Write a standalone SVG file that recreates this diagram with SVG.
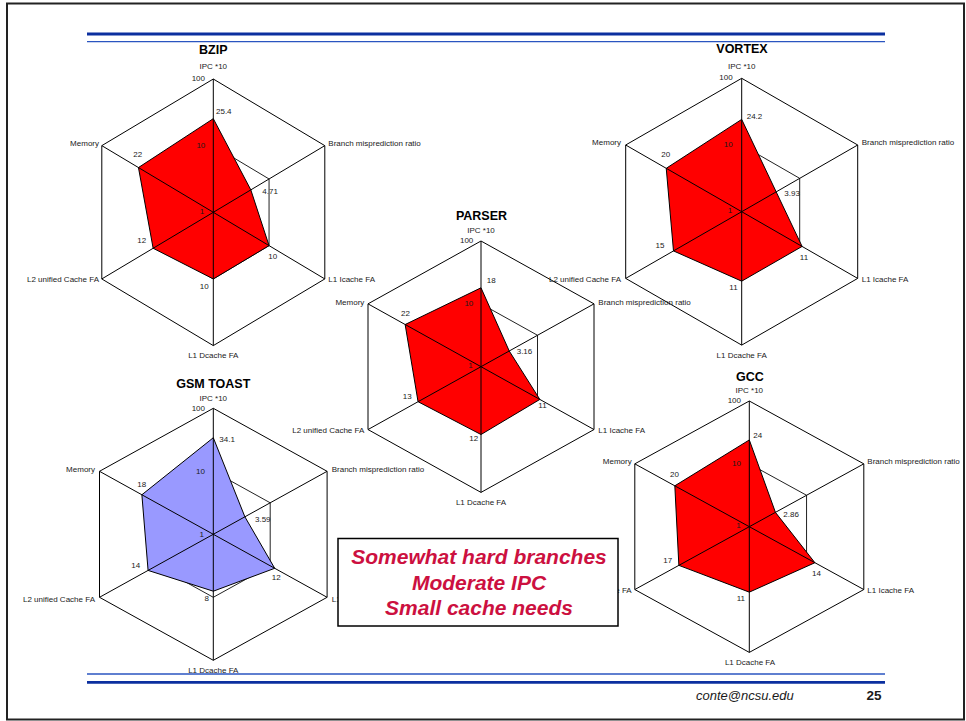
<svg xmlns="http://www.w3.org/2000/svg" width="966" height="721" viewBox="0 0 966 721">
  <style>
    .ring { fill: none; stroke: #000; stroke-width: 1; }
    .inner { fill: none; stroke: #222; stroke-width: 1; }
    .axis { fill: none; stroke: #000; stroke-width: 1; }
    .data { fill: #ff0000; stroke: #000; stroke-width: 1; }
    .data.blue { fill: #9999ff; }
    text { font-family: "Liberation Sans", Arial, sans-serif; fill: #1a1a1a; }
    .lbl { font-size: 8px; }
    .ttl { font-size: 12.5px; font-weight: bold; fill: #000; }
    .s { text-anchor: start; }
    .m { text-anchor: middle; }
    .e { text-anchor: end; }
    .note { font-size: 21px; font-weight: bold; font-style: italic; fill: #cc1040; text-anchor: middle; }
  </style>

  <rect x="0" y="0" width="966" height="721" fill="#fff"/>
  <!-- page frame -->
  <rect x="7" y="3.5" width="957" height="716" fill="none" stroke="#222" stroke-width="2"/>

  <!-- header and footer rules -->
  <g id="rules">
    <line x1="87" y1="34" x2="885" y2="34" stroke="#0b2f9f" stroke-width="2.8"/>
    <line x1="87" y1="41.7" x2="885" y2="41.7" stroke="#2a55c0" stroke-width="1.3"/>
    <line x1="87" y1="674" x2="885" y2="674" stroke="#2a55c0" stroke-width="1.3"/>
    <line x1="87" y1="682.3" x2="885" y2="682.3" stroke="#0b2f9f" stroke-width="2.8"/>
  </g>

  <!-- BZIP -->
  <g id="chart-bzip">
    <g transform="translate(213.3,212.3)">
      <polygon class="ring" points="0,-133.3 111.5,-66.65 111.5,66.65 0,133.3 -111.5,66.65 -111.5,-66.65"/>
      <polygon class="inner" points="0,-66.65 55.75,-33.33 55.75,33.33 0,66.65 -55.75,33.33 -55.75,-33.33"/>
      <polygon class="data" points="0,-93.63 37.52,-22.43 55.75,33.33 0,66.65 -60.17,35.96 -74.84,-44.74"/>
      <path class="axis" d="M0,-133.3V133.3M111.5,-66.65L-111.5,66.65M111.5,66.65L-111.5,-66.65"/>
    </g>
    <text class="ttl m" x="213.3" y="54.3">BZIP</text>
    <text class="lbl m" x="213.3" y="69.3">IPC *10</text>
    <text class="lbl e" x="205" y="81">100</text>
    <text class="lbl s" x="216" y="113.7">25.4</text>
    <text class="lbl e" x="205.3" y="147.7">10</text>
    <text class="lbl e" x="204.3" y="214">1</text>
    <text class="lbl s" x="328.3" y="146">Branch misprediction ratio</text>
    <text class="lbl e" x="99" y="146">Memory</text>
    <text class="lbl s" x="262.3" y="194.3">4.71</text>
    <text class="lbl s" x="328.3" y="282.3">L1 Icache FA</text>
    <text class="lbl e" x="99" y="282.3">L2 unified Cache FA</text>
    <text class="lbl m" x="272.7" y="259.3">10</text>
    <text class="lbl m" x="204.3" y="289.3">10</text>
    <text class="lbl m" x="141.7" y="242.7">12</text>
    <text class="lbl m" x="137.8" y="156.7">22</text>
    <text class="lbl m" x="213.3" y="357.7">L1 Dcache FA</text>
  </g>

  <!-- VORTEX -->
  <g id="chart-vortex">
    <g transform="translate(741.7,211.7)">
      <polygon class="ring" points="0,-133.4 116,-66.7 116,66.7 0,133.4 -116,66.7 -116,-66.7"/>
      <polygon class="inner" points="0,-66.7 58,-33.35 58,33.35 0,66.7 -58,33.35 -58,-33.35"/>
      <polygon class="data" points="0,-92.3 34.48,-19.82 60.4,34.73 0,69.46 -68.21,39.22 -75.46,-43.39"/>
      <path class="axis" d="M0,-133.4V133.4M116,-66.7L-116,66.7M116,66.7L-116,-66.7"/>
    </g>
    <text class="ttl m" x="742" y="53">VORTEX</text>
    <text class="lbl m" x="741.7" y="69.3">IPC *10</text>
    <text class="lbl e" x="732.7" y="80">100</text>
    <text class="lbl s" x="746.7" y="119">24.2</text>
    <text class="lbl e" x="732.7" y="146.7">10</text>
    <text class="lbl e" x="732.3" y="213.3">1</text>
    <text class="lbl s" x="861.7" y="145">Branch misprediction ratio</text>
    <text class="lbl e" x="621" y="145">Memory</text>
    <text class="lbl m" x="665.8" y="157.3">20</text>
    <text class="lbl s" x="784.3" y="195.7">3.93</text>
    <text class="lbl m" x="660" y="247.7">15</text>
    <text class="lbl m" x="804" y="260">11</text>
    <text class="lbl m" x="733.5" y="290">11</text>
    <text class="lbl s" x="861.7" y="282.3">L1 Icache FA</text>
    <text class="lbl e" x="621" y="282.3">L2 unified Cache FA</text>
    <text class="lbl m" x="741.7" y="357.7">L1 Dcache FA</text>
  </g>

  <!-- PARSER -->
  <g id="chart-parser">
    <g transform="translate(481,366.7)">
      <polygon class="ring" points="0,-125.7 113,-62.85 113,62.85 0,125.7 -113,62.85 -113,-62.85"/>
      <polygon class="inner" points="0,-62.85 56.5,-31.43 56.5,31.43 0,62.85 -56.5,31.43 -56.5,-31.43"/>
      <polygon class="data" points="0,-78.89 28.24,-15.71 58.84,32.73 0,67.83 -62.94,35.01 -75.85,-42.18"/>
      <path class="axis" d="M0,-125.7V125.7M113,-62.85L-113,62.85M113,62.85L-113,-62.85"/>
    </g>
    <text class="ttl m" x="481.5" y="220">PARSER</text>
    <text class="lbl m" x="481" y="232.7">IPC *10</text>
    <text class="lbl e" x="473.3" y="242.7">100</text>
    <text class="lbl s" x="486.7" y="283.3">18</text>
    <text class="lbl e" x="473.3" y="305.7">10</text>
    <text class="lbl m" x="405.5" y="315.7">22</text>
    <text class="lbl e" x="472.7" y="368.3">1</text>
    <text class="lbl s" x="516.7" y="354">3.16</text>
    <text class="lbl m" x="407.2" y="398.7">13</text>
    <text class="lbl m" x="542.5" y="408.3">11</text>
    <text class="lbl m" x="473.7" y="440.7">12</text>
    <text class="lbl e" x="364.3" y="304.5">Memory</text>
    <text class="lbl s" x="598.3" y="304.5">Branch misprediction ratio</text>
    <text class="lbl s" x="598.3" y="433">L1 Icache FA</text>
    <text class="lbl e" x="364.3" y="433">L2 unified Cache FA</text>
    <text class="lbl m" x="481" y="504.5">L1 Dcache FA</text>
  </g>

  <!-- GSM TOAST -->
  <g id="chart-gsm-toast">
    <g transform="translate(213.3,534.3)">
      <polygon class="ring" points="0,-126 113.8,-63 113.8,63 0,126 -113.8,63 -113.8,-63"/>
      <polygon class="inner" points="0,-63 56.9,-31.5 56.9,31.5 0,63 -56.9,31.5 -56.9,-31.5"/>
      <polygon class="data blue" points="0,-96.57 31.59,-17.49 61.41,34 0,56.89 -65.22,36.11 -71.42,-39.54"/>
      <path class="axis" d="M0,-126V126M113.8,-63L-113.8,63M113.8,63L-113.8,-63"/>
    </g>
    <text class="ttl m" x="213.3" y="388.3">GSM TOAST</text>
    <text class="lbl m" x="213.3" y="400.7">IPC *10</text>
    <text class="lbl e" x="205" y="410.7">100</text>
    <text class="lbl s" x="219.3" y="442.3">34.1</text>
    <text class="lbl e" x="205" y="474">10</text>
    <text class="lbl e" x="95" y="472">Memory</text>
    <text class="lbl m" x="141.8" y="486.7">18</text>
    <text class="lbl s" x="255" y="521.7">3.59</text>
    <text class="lbl e" x="204" y="536.7">1</text>
    <text class="lbl m" x="135.8" y="568.3">14</text>
    <text class="lbl m" x="276.2" y="580">12</text>
    <text class="lbl m" x="206.8" y="600.7">8</text>
    <text class="lbl s" x="331.7" y="472">Branch misprediction ratio</text>
    <text class="lbl s" x="331.7" y="602">L1 Icache FA</text>
    <text class="lbl e" x="95" y="602">L2 unified Cache FA</text>
    <text class="lbl m" x="213.3" y="673.3">L1 Dcache FA</text>
  </g>

  <!-- GCC -->
  <g id="chart-gcc">
    <g transform="translate(749.3,526.7)">
      <polygon class="ring" points="0,-125.7 114.5,-62.85 114.5,62.85 0,125.7 -114.5,62.85 -114.5,-62.85"/>
      <polygon class="inner" points="0,-62.85 57.25,-31.43 57.25,31.43 0,62.85 -57.25,31.43 -57.25,-31.43"/>
      <polygon class="data" points="0,-86.75 26.13,-14.34 65.62,36.02 0,65.45 -70.44,38.67 -74.48,-40.88"/>
      <path class="axis" d="M0,-125.7V125.7M114.5,-62.85L-114.5,62.85M114.5,62.85L-114.5,-62.85"/>
    </g>
    <text class="ttl m" x="750" y="380.7">GCC</text>
    <text class="lbl m" x="749.3" y="392.7">IPC *10</text>
    <text class="lbl e" x="741" y="402.7">100</text>
    <text class="lbl s" x="753.3" y="437.7">24</text>
    <text class="lbl e" x="741" y="465.7">10</text>
    <text class="lbl e" x="631.7" y="463.5">Memory</text>
    <text class="lbl m" x="674.5" y="476.7">20</text>
    <text class="lbl s" x="783.3" y="516.7">2.86</text>
    <text class="lbl e" x="740.7" y="528.3">1</text>
    <text class="lbl m" x="667.8" y="562.7">17</text>
    <text class="lbl m" x="816.5" y="575.7">14</text>
    <text class="lbl m" x="740.8" y="600.7">11</text>
    <text class="lbl s" x="867.3" y="463.5">Branch misprediction ratio</text>
    <text class="lbl s" x="867.3" y="592.7">L1 Icache FA</text>
    <text class="lbl e" x="631.7" y="592.7">L2 unified Cache FA</text>
    <text class="lbl m" x="750" y="665">L1 Dcache FA</text>
  </g>

  <!-- summary callout -->
  <g id="summary-box">
    <rect x="338" y="538.5" width="280" height="87.5" fill="#fff" stroke="#000" stroke-width="1.5"/>
    <text class="note" x="479" y="564.3">Somewhat hard branches</text>
    <text class="note" x="479" y="590">Moderate IPC</text>
    <text class="note" x="479" y="615">Small cache needs</text>
  </g>

  <!-- footer -->
  <g id="footer">
    <text x="696" y="700" font-size="13" font-style="italic">conte@ncsu.edu</text>
    <text x="881.5" y="700" font-size="13.5" font-weight="bold" text-anchor="end">25</text>
  </g>
</svg>
